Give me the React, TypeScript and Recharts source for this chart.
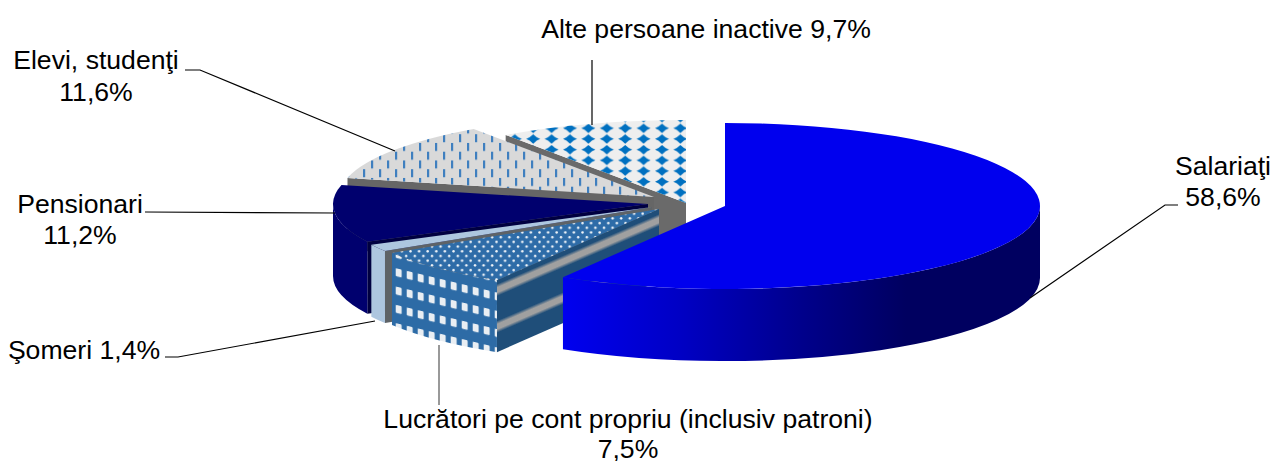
import { PieChart, Pie } from 'recharts';

// painted back to front, the pie runs clockwise from 12 o'clock ending at the first entry
const categories = ['Alte persoane inactive', 'Elevi, studenţi', 'Pensionari', 'Şomeri', 'Lucrători pe cont propriu (inclusiv patroni)', 'Salariaţi'];
const shares = [9.7, 11.6, 11.2, 1.4, 7.5, 58.6];

const data = categories.map((name, i) => ({ name, value: shares[i] }));

const RX = 315;
const RY = 83;
const DEPTH = 72;
const FONT = '"Liberation Sans", Arial, sans-serif';

// exploded offset of every slice from the pie centre, and its fills
const SLICE_STYLE = [
    { dx: -39, dy: -3, top: 'url(#diamonds)', wall: '#eeeeee', face: '#6a6a6a' },
    { dx: -71, dy: -9, top: 'url(#dashes)', wall: '#d9d9d9', face: '#666666' },
    { dx: -77, dy: -2, top: '#00006e', wall: '#00006e', face: '#000040' },
    { dx: -73, dy: 1, top: '#adc6df', wall: '#adc6df', face: '#5e6367' },
    { dx: -66, dy: 3, top: 'url(#dots)', wall: 'url(#squares)', face: 'url(#stripes)' },
    { dx: 0, dy: 0, top: '#0000ee', wall: 'url(#blueWall)', face: '#0000ee' },
];

const LABEL_LAYOUT = [
    { lines: 1, x: 706, y: 38, leader: '592,60 592,125' },
    { lines: 2, x: 96, y: 69, gap: 32, leader: '185,70 200,70 395,151' },
    { lines: 2, x: 80, y: 213, gap: 30.5, leader: '145,212 335,213' },
    { lines: 1, x: 84, y: 359, leader: '165,357 178,357 375,321' },
    { lines: 2, x: 628, y: 428, gap: 30, leader: '439,345 439,405' },
    { lines: 2, x: 1223, y: 175, gap: 31, leader: '1178,205 1165,205 1030,298' },
];

function Slice3D(props: any) {
    const { cx, cy, startAngle, endAngle, index } = props;
    const style = SLICE_STYLE[index];
    const ox = cx + style.dx;
    const oy = cy + style.dy;
    const c1 = 90 - endAngle + 360;
    const c2 = 90 - startAngle + 360;
    const rim = (c: number, drop = 0) => {
        const r = (c * Math.PI) / 180;
        return `${ox + RX * Math.sin(r)} ${oy - RY * Math.cos(r) + drop}`;
    };
    const large = c2 - c1 > 180 ? 1 : 0;
    const lo = Math.max(c1, 90);
    const hi = Math.min(c2, 270);
    return (
        <g>
            {c1 > 180 && (
                <path
                    d={`M${ox} ${oy} L${rim(c1)} L${rim(c1, DEPTH)} L${ox} ${oy + DEPTH} Z`}
                    fill={style.face}
                />
            )}
            {hi > lo && (
                <path
                    d={`M${rim(lo)} A${RX} ${RY} 0 0 1 ${rim(hi)} L${rim(hi, DEPTH)} A${RX} ${RY} 0 0 0 ${rim(lo, DEPTH)} Z`}
                    fill={style.wall}
                />
            )}
            <path d={`M${ox} ${oy} L${rim(c1)} A${RX} ${RY} 0 ${large} 1 ${rim(c2)} Z`} fill={style.top} />
        </g>
    );
}

function SliceLabel(props: any) {
    const { index, name, value } = props;
    const layout = LABEL_LAYOUT[index];
    const pct = `${Number(value).toFixed(1).replace('.', ',')}%`;
    const common = { x: layout.x, textAnchor: 'middle' as const, fontFamily: FONT, fontSize: 26.6, fill: '#000000' };
    return (
        <g>
            <polyline points={layout.leader} fill="none" stroke={index === 4 ? '#555555' : '#000000'} strokeWidth={1.2} />
            {layout.lines === 1 ? (
                <text {...common} y={layout.y}>{`${name} ${pct}`}</text>
            ) : (
                <>
                    <text {...common} y={layout.y}>{name}</text>
                    <text {...common} y={layout.y + (layout.gap ?? 31)}>{pct}</text>
                </>
            )}
        </g>
    );
}

export default function App() {
    return (
        <div style={{ position: 'absolute', left: 0, top: 0, width: 1272, height: 461, background: '#ffffff' }}>
            <PieChart width={1272} height={461} margin={{ top: 0, right: 0, bottom: 0, left: 0 }}>
                <defs>
                    <pattern id="diamonds" width={18.4} height={10.7} patternUnits="userSpaceOnUse" patternTransform="translate(563 123.6)">
                        <rect width={18.4} height={10.7} fill="#eeeeee" />
                        <path d="M0 4.7 L3.5 3 L7 0 L10.5 3 L14 4.7 L10.5 6.4 L7 9.4 L3.5 6.4 Z" fill="#0070c0" />
                    </pattern>
                    <pattern id="dashes" width={16} height={17.5} patternUnits="userSpaceOnUse" patternTransform="translate(395 151.7)">
                        <rect width={16} height={17.5} fill="#d9d9d9" />
                        <rect x={0} y={0} width={2.2} height={8} fill="#3f7fbf" />
                        <rect x={8} y={8.75} width={2.2} height={8} fill="#3f7fbf" />
                    </pattern>
                    <pattern id="dots" width={8.6} height={9.4} patternUnits="userSpaceOnUse">
                        <rect width={8.6} height={9.4} fill="#2e6ca8" />
                        <circle cx={2} cy={2.2} r={1.25} fill="#f4f7fa" />
                        <circle cx={6.3} cy={6.9} r={1.25} fill="#f4f7fa" />
                    </pattern>
                    <pattern id="squares" width={11} height={18.3} patternUnits="userSpaceOnUse" patternTransform="translate(483.7 289.3) skewY(13.5)">
                        <rect width={11} height={18.3} fill="#2d6ba6" />
                        <rect x={0} y={0} width={6} height={8} rx={1} fill="#e9eef3" />
                    </pattern>
                    <linearGradient id="stripes" gradientUnits="userSpaceOnUse" x1={497} y1={279} x2={523.2} y2={339.6}>
                        <stop offset={0} stopColor="#1f4e79" />
                        <stop offset={0.07} stopColor="#1f4e79" />
                        <stop offset={0.12} stopColor="#a0a0a0" />
                        <stop offset={0.19} stopColor="#a0a0a0" />
                        <stop offset={0.24} stopColor="#1f4e79" />
                        <stop offset={0.58} stopColor="#1f4e79" />
                        <stop offset={0.63} stopColor="#a0a0a0" />
                        <stop offset={0.7} stopColor="#a0a0a0" />
                        <stop offset={0.75} stopColor="#1f4e79" />
                        <stop offset={1} stopColor="#1f4e79" />
                    </linearGradient>
                    <linearGradient id="blueWall" gradientUnits="userSpaceOnUse" x1={561} y1={0} x2={1040} y2={0}>
                        <stop offset={0} stopColor="#0000f0" />
                        <stop offset={0.25} stopColor="#0000c4" />
                        <stop offset={0.5} stopColor="#00008c" />
                        <stop offset={0.72} stopColor="#000060" />
                        <stop offset={1} stopColor="#000060" />
                    </linearGradient>
                </defs>
                <Pie
                    data={data}
                    dataKey="value"
                    nameKey="name"
                    cx={725}
                    cy={206}
                    outerRadius={RX}
                    startAngle={90}
                    endAngle={450}
                    stroke="none"
                    shape={Slice3D}
                    label={SliceLabel}
                    labelLine={false}
                    isAnimationActive={false}
                />
            </PieChart>
        </div>
    );
}
